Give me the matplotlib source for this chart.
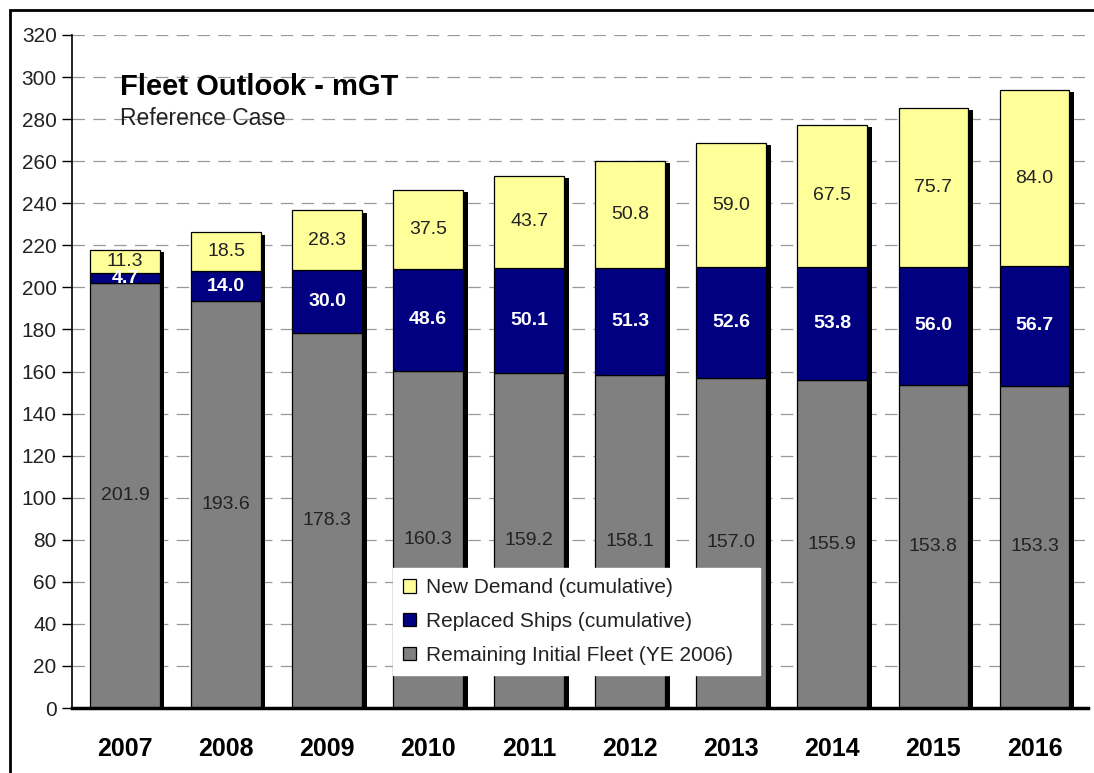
import numpy as np
import matplotlib
matplotlib.use("Agg")
import matplotlib.pyplot as plt
from matplotlib.patches import Rectangle

years = ["2007", "2008", "2009", "2010", "2011", "2012", "2013", "2014", "2015", "2016"]
remaining = [201.9, 193.6, 178.3, 160.3, 159.2, 158.1, 157.0, 155.9, 153.8, 153.3]
replaced = [4.7, 14.0, 30.0, 48.6, 50.1, 51.3, 52.6, 53.8, 56.0, 56.7]
new_demand = [11.3, 18.5, 28.3, 37.5, 43.7, 50.8, 59.0, 67.5, 75.7, 84.0]

plt.rcParams['font.family'] = ['Liberation Sans', 'DejaVu Sans']
plt.rcParams['lines.scale_dashes'] = False

W, H = 1094, 773
fig = plt.figure(figsize=(W / 100, H / 100), dpi=100)
ax = fig.add_axes([72 / W, 1 - 708 / H, 1016 / W, 673 / H])

x = np.arange(len(years))
rem = np.array(remaining)
rep = np.array(replaced)
new = np.array(new_demand)
total = rem + rep + new
w = 0.69

# drop shadow behind each stack
ax.bar(x + 0.045, total - 1.0, w, color='black', zorder=2)
ax.bar(x, rem, w, color='#808080', edgecolor='black', linewidth=0.9, zorder=3,
       label='Remaining Initial Fleet (YE 2006)')
ax.bar(x, rep, w, bottom=rem, color='#000080', edgecolor='black', linewidth=0.9, zorder=3,
       label='Replaced Ships (cumulative)')
ax.bar(x, new, w, bottom=rem + rep, color='#FFFF99', edgecolor='black', linewidth=0.9, zorder=3,
       label='New Demand (cumulative)')

for i in range(len(years)):
    ax.text(x[i], rem[i] / 2, f"{rem[i]:.1f}", ha='center', va='center', fontsize=14,
            color='#222222', zorder=5)
    ax.text(x[i], rem[i] + rep[i] / 2, f"{rep[i]:.1f}", ha='center', va='center', fontsize=14,
            color='white', fontweight='bold', zorder=5)
    ax.text(x[i], rem[i] + rep[i] + new[i] / 2, f"{new[i]:.1f}", ha='center', va='center',
            fontsize=14, color='#222222', zorder=5)

ax.set_ylim(0, 320)
ax.set_xlim(-0.525, 9.53)
ax.set_yticks(np.arange(0, 321, 20))
ax.set_xticks(x)
ax.set_xticklabels(years, fontsize=18, fontweight='bold')
ax.tick_params(axis='x', length=0, pad=21)
ax.tick_params(axis='y', length=7, width=1, labelsize=15, pad=4, labelcolor='#222222')
ax.yaxis.grid(True, linestyle=(0, (9, 6)), color='#999999', linewidth=0.9, zorder=0)
ax.set_axisbelow(True)
for s in ['top', 'right']:
    ax.spines[s].set_visible(False)
ax.spines['left'].set_linewidth(1.2)
ax.spines['bottom'].set_linewidth(2.5)
ax.spines['bottom'].set_zorder(6)

ax.text(0.047, 295.5, "Fleet Outlook - mGT", transform=ax.get_yaxis_transform(), fontsize=21,
        fontweight='bold', va='center', ha='left')
ax.text(0.047, 280.5, "Reference Case", transform=ax.get_yaxis_transform(), fontsize=16.5,
        va='center', ha='left', color='#222222')

handles, labels = ax.get_legend_handles_labels()
leg = ax.legend(handles[::-1], labels[::-1], loc='upper left',
                bbox_to_anchor=(0.316, 0.0416, 0.361, 0.1665), mode='expand',
                borderaxespad=0, fontsize=15, frameon=True, fancybox=False, framealpha=1,
                edgecolor='white', handlelength=0.6, handleheight=0.6, handletextpad=0.5,
                labelspacing=0.7, borderpad=0.5)
leg.set_zorder(10)
for t in leg.get_texts():
    t.set_color('#222222')

# outer frame (cropped at right and bottom)
fig.patches.append(Rectangle((10 / W, -0.1), 1.2, 1 - 10 / H + 0.1, transform=fig.transFigure,
                             fill=False, edgecolor='black', linewidth=2))

fig.savefig("out.png", dpi=100)
